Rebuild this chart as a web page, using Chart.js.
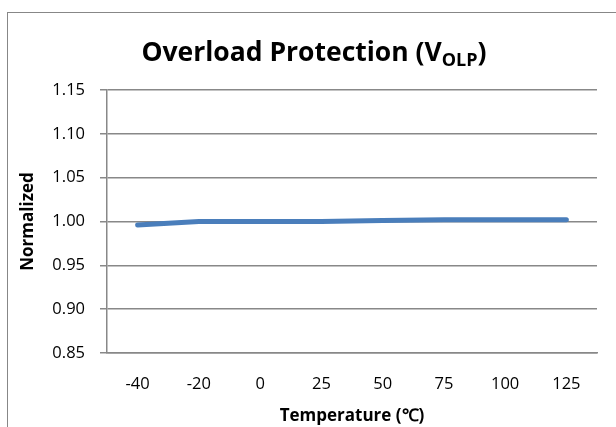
<!DOCTYPE html>
<html>
<head>
<meta charset="utf-8">
<script src="https://cdn.jsdelivr.net/npm/chart.js@4.4.1/dist/chart.umd.min.js"></script>
<style>
    body { margin: 0; background: #fff; }
    #wrap { position: relative; width: 616px; height: 427px; overflow: hidden; }
    #frame { position: absolute; left: 7px; top: 12px; width: 700px; height: 500px; border-left: 1px solid #878787; border-top: 1px solid #878787; }
    #title { position: absolute; left: 14px; width: 600px; top: 33px; line-height: 36px; text-align: center; font: bold 26.5px 'Open Sans', sans-serif; color: #000; white-space: nowrap; }
    #title sub { font-size: 18px; vertical-align: -5px; line-height: 0; }
    canvas { position: absolute; left: 0; top: 0; }
</style>
</head>
<body>
<div id="wrap">
    <div id="frame"></div>
    <canvas id="chart" width="616" height="427"></canvas>
    <div id="title">Overload Protection (V<sub>OLP</sub>)</div>
</div>
<script>
const temperatures = ['-40', '-20', '0', '25', '50', '75', '100', '125'];
const normalized = [0.996, 1.000, 1.000, 1.000, 1.001, 1.002, 1.002, 1.002];
const yTicks = [0.85, 0.90, 0.95, 1.00, 1.05, 1.10, 1.15];

document.addEventListener('DOMContentLoaded', () => {
    const chart = document.querySelector('#chart').getContext('2d');
    new Chart(chart, {
        type: 'line',
        data: {
            labels: temperatures,
            datasets: [
                {
                    label: 'Normalized',
                    data: normalized,
                    borderColor: '#4A7EBB',
                    borderWidth: 5,
                    borderCapStyle: 'round',
                    pointRadius: 0,
                    tension: 0
                }
            ]
        },
        options: {
            responsive: false,
            animation: false,
            layout: {
                padding: { top: 90, right: 19, bottom: 0, left: 7 }
            },
            plugins: {
                legend: { display: false },
                tooltip: { enabled: false }
            },
            scales: {
                x: {
                    offset: true,
                    grid: { display: false },
                    border: { display: true, color: '#888888', width: 1.5 },
                    ticks: {
                        color: '#000',
                        padding: 13,
                        maxRotation: 0,
                        font: { family: 'Open Sans', size: 16.5 }
                    },
                    title: {
                        display: true,
                        text: 'Temperature (℃)',
                        color: '#000',
                        padding: { top: 0, bottom: 1 },
                        font: { family: 'Open Sans', size: 17, weight: 'bold' }
                    },
                    afterFit: (scale) => { scale.height = 74; }
                },
                y: {
                    min: yTicks[0],
                    max: yTicks[yTicks.length - 1],
                    afterBuildTicks: (scale) => {
                        scale.ticks = yTicks.map(v => ({ value: v }));
                    },
                    grid: { color: '#888888', lineWidth: 1.5, tickLength: 7, drawTicks: true },
                    border: { display: true, color: '#888888', width: 1.5 },
                    ticks: {
                        color: '#000',
                        padding: 15,
                        font: { family: 'Open Sans', size: 16.5 },
                        callback: (value) => Number(value).toFixed(2)
                    },
                    title: {
                        display: true,
                        text: 'Normalized',
                        color: '#000',
                        padding: { top: 11, bottom: 0 },
                        font: { family: 'Open Sans', size: 17, weight: 'bold' }
                    },
                    afterFit: (scale) => { scale.width = 100; }
                }
            }
        }
    });
});
</script>
</body>
</html>
